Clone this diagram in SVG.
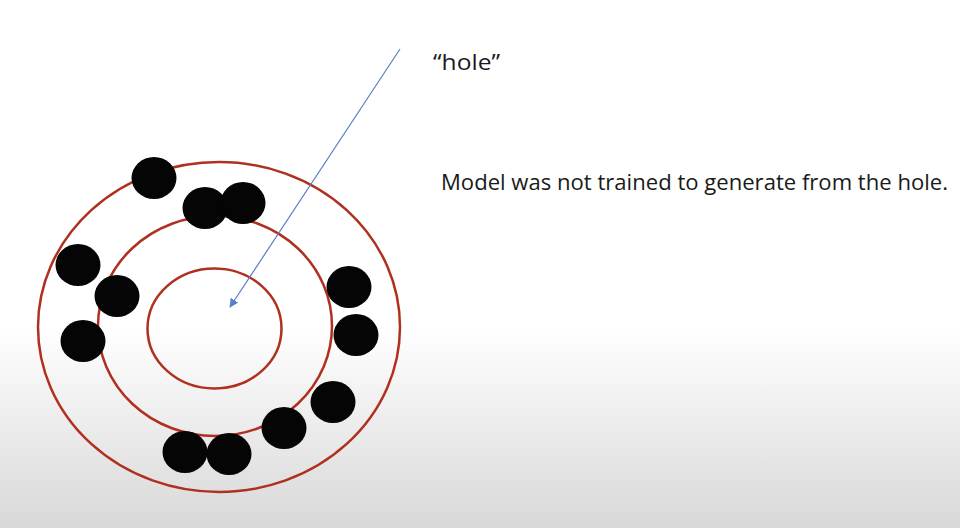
<svg xmlns="http://www.w3.org/2000/svg" width="960" height="528" viewBox="0 0 960 528">
<defs>
<linearGradient id="bg" x1="0" y1="0" x2="0" y2="528" gradientUnits="userSpaceOnUse">
<stop offset="0" stop-color="#ffffff"/>
<stop offset="0.62" stop-color="#ffffff"/>
<stop offset="1" stop-color="#d8d8d8"/>
</linearGradient>
<marker id="ah" viewBox="0 0 10 10" refX="9" refY="5" markerWidth="9" markerHeight="9" markerUnits="userSpaceOnUse" orient="auto">
<path d="M0,0 L10,5 L0,10 z" fill="#5b7fc4"/>
</marker>
</defs>
<style>
.ring{fill:none;stroke:#b0301f;stroke-width:2.5}
.dot{fill:#050505}
.t{font-family:"Open Sans","Liberation Sans",sans-serif;fill:#1a1a1a}
</style>
<rect width="960" height="528" fill="url(#bg)"/>
<g id="rings">
<ellipse class="ring" cx="219" cy="327" rx="181" ry="165"/>
<ellipse class="ring" cx="215" cy="326" rx="117" ry="110"/>
<ellipse class="ring" cx="214.5" cy="328.5" rx="67" ry="60"/>
</g>
<g id="dots">
<ellipse class="dot" cx="154" cy="178" rx="22.5" ry="21"/>
<ellipse class="dot" cx="205" cy="208" rx="22.5" ry="21"/>
<ellipse class="dot" cx="243" cy="203" rx="22.5" ry="21"/>
<ellipse class="dot" cx="78" cy="265" rx="22.5" ry="21"/>
<ellipse class="dot" cx="117" cy="296" rx="22.5" ry="21"/>
<ellipse class="dot" cx="83" cy="341" rx="22.5" ry="21"/>
<ellipse class="dot" cx="349" cy="287" rx="22.5" ry="21"/>
<ellipse class="dot" cx="356" cy="335" rx="22.5" ry="21"/>
<ellipse class="dot" cx="333" cy="402" rx="22.5" ry="21"/>
<ellipse class="dot" cx="284" cy="428" rx="22.5" ry="21"/>
<ellipse class="dot" cx="185" cy="452" rx="22.5" ry="21"/>
<ellipse class="dot" cx="229" cy="454" rx="22.5" ry="21"/>
</g>
<g id="connectors">
<line x1="400" y1="49" x2="230" y2="307" stroke="#5b7fc4" stroke-width="1.2" marker-end="url(#ah)"/>
</g>
<g id="labels">
<text class="t" x="433" y="70" font-size="21" textLength="67" lengthAdjust="spacingAndGlyphs">“hole”</text>
<text class="t" x="441" y="190" font-size="21" textLength="507" lengthAdjust="spacingAndGlyphs">Model was not trained to generate from the hole.</text>
</g>
</svg>
